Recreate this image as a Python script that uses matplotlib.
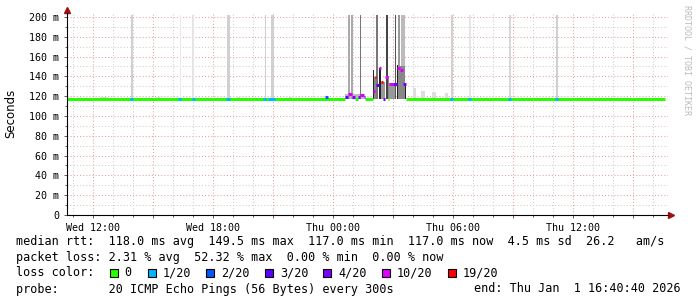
import matplotlib
matplotlib.use("Agg")
import matplotlib.pyplot as plt
from matplotlib.patches import Rectangle
from matplotlib.ticker import MultipleLocator, FuncFormatter

# time axis in hours since Wed 00:00
t_start = 10.678
t_end = 40.728

tick_hours = [12, 18, 24, 30, 36]
tick_labels = ["Wed 12:00", "Wed 18:00", "Thu 00:00", "Thu 06:00", "Thu 12:00"]

loss_labels = ["0", "1/20", "2/20", "3/20", "4/20", "10/20", "19/20"]
loss_colors = ["#26ff00", "#00b8ff", "#0059ff", "#5e00ff", "#7e00ff", "#dd00ff", "#ff0000"]

# median rtt steps (start h, end h, ms, loss index)
med_start = [10.678, 25.078, 25.578, 26.713, 27.613,
             13.828, 16.243, 16.913, 18.628, 20.493, 20.743, 23.578,
             24.578, 24.728, 24.928, 25.228, 25.328, 25.528,
             25.963, 26.078, 26.128, 26.293, 26.378, 26.478, 26.578,
             26.793, 26.978, 27.178, 27.328, 27.478,
             29.828, 30.743, 32.743, 35.078]
med_end = [24.578, 25.228, 25.963, 26.793, 40.58,
           13.963, 16.363, 17.063, 18.828, 20.628, 21.078, 23.713,
           24.728, 24.928, 25.078, 25.328, 25.528, 25.578,
           26.078, 26.128, 26.293, 26.378, 26.478, 26.578, 26.713,
           26.978, 27.178, 27.328, 27.478, 27.613,
           29.963, 30.863, 32.863, 35.213]
med_ms = [117, 117, 117, 117, 117,
          117, 117, 117, 117, 117, 117, 119,
          119, 122, 119, 119, 121, 119,
          125, 139, 131, 148, 134, 117, 139,
          132, 132, 148, 146, 132,
          117, 117, 117, 117]
med_loss = [0, 0, 0, 0, 0,
            1, 1, 1, 1, 1, 1, 2,
            3, 5, 4, 4, 5, 3,
            5, 6, 3, 5, 6, 4, 5,
            5, 4, 5, 5, 4,
            1, 1, 1, 1]

# smoke (ping spread) columns
smoke_start = [12.33, 15.15, 19.2, 21.8, 24.6,
               13.853, 16.303, 16.928, 18.678, 20.553, 20.878,
               24.728, 24.878, 25.328, 26.128, 26.628, 27.078, 27.203, 27.378,
               29.853, 30.778, 32.778, 35.103,
               27.963, 28.363, 28.928, 29.578,
               25.953, 26.028, 26.278, 26.378, 26.713, 26.793, 27.153, 27.203, 27.553]
smoke_end = [12.73, 15.35, 19.35, 21.95, 25.55,
             13.953, 16.378, 17.028, 18.828, 20.628, 21.028,
             24.828, 24.978, 25.378, 26.228, 26.728, 27.128, 27.328, 27.578,
             29.953, 30.853, 32.878, 35.203,
             28.113, 28.578, 29.128, 29.728,
             26.028, 26.128, 26.378, 26.578, 26.793, 27.078, 27.203, 27.553, 27.603]
smoke_top = [119.6, 119.6, 119.6, 119.6, 122,
             202, 202, 202, 202, 202, 202,
             202, 202, 202, 202, 202, 202, 202, 202,
             202, 202, 202, 202,
             128, 125.5, 124, 123.5,
             146, 139, 148, 134, 140, 133, 152, 150, 132]
smoke_shade = ["#dddddd", "#dddddd", "#dddddd", "#dddddd", "#bbbbbb",
               "#d0d0d0", "#e8e8e8", "#e4e4e4", "#d0d0d0", "#d0d0d0", "#d0d0d0",
               "#aaaaaa", "#aaaaaa", "#777777", "#777777", "#444444", "#555555", "#999999", "#bbbbbb",
               "#d0d0d0", "#e6e6e6", "#d8d8d8", "#d0d0d0",
               "#dddddd", "#dddddd", "#dddddd", "#dddddd",
               "#222222", "#888888", "#222222", "#999999", "#888888", "#999999", "#222222", "#888888", "#222222"]
smoke_base = 117

W, H = 697, 297
fig = plt.figure(figsize=(W / 100, H / 100), dpi=100)
ax = fig.add_axes([67 / W, 82 / H, 601 / W, 202 / H])
ax.set_xlim(t_start, t_end)
ax.set_ylim(0, 204.04)

mono = "DejaVu Sans Mono"

# grid
for v in range(10, 201, 10):
    c = "#e8a0a0" if v % 20 == 0 else "#cfcfcf"
    ax.axhline(v, color=c, lw=0.75, ls=(0, (1, 2)), zorder=0)
for h in range(11, 41):
    c = "#e8a0a0" if h % 3 == 0 else "#cfcfcf"
    ax.axvline(h, color=c, lw=0.75, ls=(0, (1, 2)), zorder=0)

# smoke
for s, e, top, sh in zip(smoke_start, smoke_end, smoke_top, smoke_shade):
    ax.bar(s, top - smoke_base, width=e - s, bottom=smoke_base, align="edge",
           color=sh, linewidth=0, zorder=1)

# median line coloured by loss
for s, e, m, l in zip(med_start, med_end, med_ms, med_loss):
    ax.hlines(m, s, e, colors=loss_colors[l], lw=2.2, zorder=2)

# axes look
for sp in ["top", "right"]:
    ax.spines[sp].set_visible(False)
ax.spines["left"].set_linewidth(0.8)
ax.spines["bottom"].set_linewidth(0.8)
ax.spines["left"].set_zorder(3)
ax.spines["bottom"].set_zorder(3)

ax.xaxis.set_major_locator(MultipleLocator(3))
ax.xaxis.set_minor_locator(MultipleLocator(1))
lab = dict(zip(tick_hours, tick_labels))
ax.xaxis.set_major_formatter(FuncFormatter(lambda v, p: lab.get(int(round(v)), "")))
ax.yaxis.set_major_locator(MultipleLocator(20))
ax.yaxis.set_minor_locator(MultipleLocator(10))
ax.yaxis.set_major_formatter(FuncFormatter(lambda v, p: "0" if v == 0 else "%d m" % v))
ax.tick_params(which="major", length=2.5, width=0.6, color="#444444", labelsize=7.2, pad=3)
ax.tick_params(which="minor", length=1.5, width=0.6, color="#444444")
for t in ax.get_xticklabels() + ax.get_yticklabels():
    t.set_family(mono)

# axis arrows
ax.plot([t_start, t_start], [204, 207], color="black", lw=0.8, clip_on=False)
ax.plot([t_start], [207.5], marker="^", ms=4, color="#a01010", clip_on=False)
ax.plot([t_end, t_end + 0.1], [0, 0], color="black", lw=0.8, clip_on=False)
ax.plot([t_end + 0.15], [0], marker=">", ms=4, color="#a01010", clip_on=False)

fig.text(11 / W, 1 - 113 / H, "Seconds", rotation=90, ha="center", va="center",
         fontsize=8.5, family="DejaVu Sans")
fig.text(687 / W, 1 - 5 / H, "RRDTOOL / TOBI OETIKER", rotation=-90, ha="center", va="top",
         fontsize=6, family=mono, color="#bbbbbb")

def row(y, s, x=16, **kw):
    fig.text(x / W, 1 - y / H, s, ha=kw.pop("ha", "left"), va="center",
             fontsize=8.5, family=mono, **kw)

row(241, "median rtt:  118.0 ms avg  149.5 ms max  117.0 ms min  117.0 ms now  4.5 ms sd  26.2   am/s")
row(257, "packet loss: 2.31 % avg  52.32 % max  0.00 % min  0.00 % now")
row(273, "loss color:")
box_x = [109.5, 147.7, 206, 265, 323.4, 382, 448]
for bx, lb, c in zip(box_x, loss_labels, loss_colors):
    fig.patches.append(Rectangle((bx / W, 1 - 277 / H), 8 / W, 8 / H, transform=fig.transFigure,
                                 facecolor=c, edgecolor="black", lw=0.8))
    row(273, lb, x=bx + 15)
row(289, "probe:       20 ICMP Echo Pings (56 Bytes) every 300s")
row(289, "end: Thu Jan  1 16:40:40 2026", x=681, ha="right")

fig.savefig("out.png", dpi=100)
